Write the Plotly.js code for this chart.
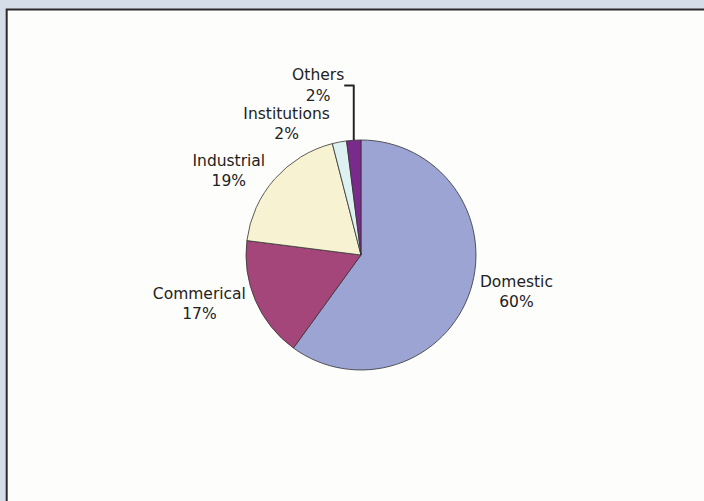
<!DOCTYPE html>
<html>
<head>
<meta charset="utf-8">
<script src="https://cdn.plot.ly/plotly-3.0.1.min.js"></script>
<style>html,body{margin:0;padding:0;background:#d6dfe9;}#chart{width:704px;height:501px;}</style>
</head>
<body>
<div id="chart"></div>
<script>
const categories = ["Domestic", "Commerical", "Industrial", "Institutions", "Others"];
const shares = [60, 17, 19, 2, 2];
const sliceColors = ["#9ca4d4", "#a5467b", "#f7f2d2", "#dcf1f0", "#7a2a8a"];

const trace = {
  type: "pie",
  labels: categories,
  values: shares,
  sort: false,
  direction: "clockwise",
  rotation: 0,
  marker: { colors: sliceColors, line: { color: "#333333", width: 0.8 } },
  textinfo: "label+percent",
  texttemplate: "%{label}<br>%{percent:.0%}",
  textposition: "outside",
  textfont: { family: "DejaVu Sans, sans-serif", size: 15.5, color: "#222222" },
  outsidetextfont: { family: "DejaVu Sans, sans-serif", size: 15.5, color: "#222222" },
  automargin: false,
  showlegend: false,
  hoverinfo: "label+percent",
  domain: { x: [0.3494, 0.6761], y: [0.2615, 0.7206] }
};

const layout = {
  width: 704,
  height: 501,
  margin: { l: 0, r: 0, t: 0, b: 0 },
  paper_bgcolor: "#d5dde9",
  showlegend: false,
  shapes: [
    {
      type: "rect", xref: "paper", yref: "paper", layer: "below",
      x0: 0.0095, x1: 1.01, y0: -0.01, y1: 0.981,
      fillcolor: "#fdfdfb", line: { color: "#2a2a2a", width: 2 }
    }
  ]
};

Plotly.newPlot("chart", [trace], layout, { displayModeBar: false, staticPlot: true });
</script>
</body>
</html>
